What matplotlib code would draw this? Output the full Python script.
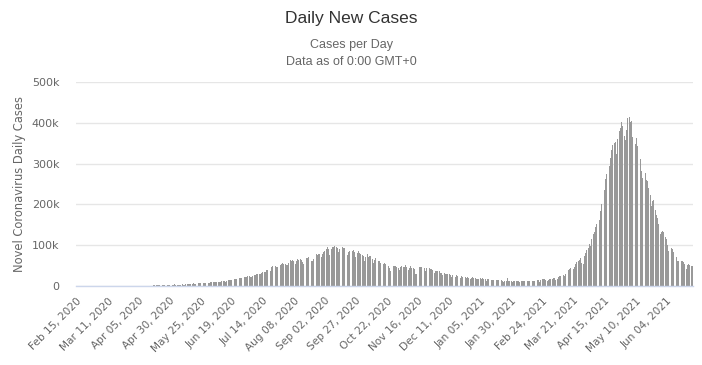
import datetime as dt
import matplotlib
matplotlib.use("Agg")
import matplotlib.pyplot as plt

# ---------------- data (daily new cases) ----------------
start_date = dt.date(2020, 2, 15)

feb_2020 = [0] * 15
mar_2020 = [0, 2, 1, 22, 2, 1, 3, 5, 4, 13, 6, 11, 10, 20, 11, 15, 17, 20, 23, 79,
            63, 77, 103, 37, 121, 70, 160, 100, 112, 227, 146]
apr_2020 = [437, 235, 478, 525, 505, 704, 508, 485, 591, 896, 768, 918, 796, 1211, 1076,
            1007, 1296, 1229, 1334, 1553, 1336, 1383, 1409, 1684, 1429, 1990, 1396, 1543, 1897, 1718]
may_2020 = [1993, 2293, 2487, 3932, 2963, 3587, 3364, 3344, 3113, 4353, 3607, 3524, 3763, 3942,
            3787, 4864, 5050, 4630, 6147, 5611, 5609, 6088, 6654, 6767, 6977, 6535, 6387, 7466,
            7964, 8380, 8392]
jun_2020 = [8171, 8909, 9304, 9851, 9887, 9971, 10077, 9987, 9985, 10956, 11458, 11929, 11502,
            10667, 12881, 13586, 14516, 15413, 14821, 14933, 15968, 16922, 17296, 18552, 19906,
            19459, 18522, 19148, 20903, 22771]
jul_2020 = [22771, 24850, 24248, 22252, 22752, 24879, 26506, 27114, 28637, 28701, 28498, 29429,
            32695, 35468, 34956, 34884, 38902, 40425, 37148, 37724, 45720, 49310, 48916, 49931,
            46979, 47703, 48513, 52123, 55078, 57118, 54736]
aug_2020 = [52972, 52050, 52509, 56282, 62538, 61537, 64399, 62064, 53601, 60963, 66999, 64553,
            65002, 63490, 57981, 55079, 64531, 69652, 68898, 69878, 69239, 61408, 60975, 67151,
            75760, 77266, 76472, 78761, 78512, 69921, 78357]
sep_2020 = [83883, 86432, 90632, 94372, 90802, 75809, 89706, 95735, 96551, 97570, 94372, 92071,
            83809, 90123, 97894, 96424, 93337, 92605, 86961, 75083, 83347, 86508, 86052, 85362,
            88600, 82170, 70589, 80472, 86821, 81484]
oct_2020 = [79476, 75829, 74442, 61267, 72049, 78524, 70496, 73272, 74383, 66732, 55342, 63509,
            67708, 63371, 62212, 61871, 55722, 46790, 54044, 55839, 54366, 53370, 50129, 45148,
            36470, 43893, 49881, 48648, 48268, 46963, 45230]
nov_2020 = [38310, 46254, 50210, 47638, 45674, 50357, 45903, 38073, 44281, 47905, 44879, 44684,
            41100, 30548, 29164, 38617, 45576, 45882, 46232, 45209, 44059, 37975, 44376, 44489,
            43082, 41322, 41810, 38772, 31118, 36604]
dec_2020 = [35551, 36652, 36594, 32981, 32080, 26567, 31521, 29398, 30006, 29398, 30254, 27071,
            22065, 26382, 24010, 22890, 26624, 25152, 24337, 19556, 23950, 23068, 24712, 23067,
            18732, 22272, 20021, 16432, 20549, 21822, 20035]
jan_2021 = [19079, 18177, 16505, 18088, 20346, 18139, 18645, 18222, 16311, 12584, 15968, 16946,
            15590, 15144, 15158, 13788, 10064, 13823, 15223, 14545, 14256, 14849, 13203, 9102,
            12689, 11666, 18855, 13083, 11649, 13052, 8635]
feb_2021 = [11039, 12899, 11713, 12059, 11831, 9110, 12923, 11067, 12143, 11067, 12194, 12143,
            12194, 11649, 9121, 11610, 13193, 12881, 13193, 13993, 14199, 10584, 13742, 16738,
            16577, 16752, 15510, 12286]
mar_2021 = [14989, 17407, 16838, 18327, 18711, 18599, 15388, 17921, 22854, 23285, 24882, 25320,
            26291, 24492, 28903, 35871, 39726, 40953, 43846, 46951, 40715, 47262, 53476, 59118,
            62258, 62714, 68020, 56211, 53480, 72330, 81466]
apr_2021 = [89129, 93249, 103558, 96982, 115736, 126789, 131968, 145384, 152879, 168912, 161736,
            184372, 200739, 217353, 234692, 261500, 273810, 259170, 295041, 314835, 332730,
            346786, 349691, 352991, 323144, 360960, 379257, 386452, 401993, 392488]
may_2021 = [368147, 357229, 382315, 412262, 414188, 401078, 403738, 366161, 329942, 348421,
            362727, 343144, 326098, 311170, 281386, 263533, 267334, 276070, 259551, 257299,
            240842, 222315, 196427, 208921, 211298, 186364, 173790, 165553, 152734, 127510, 132788]
jun_2021 = [134154, 132364, 120529, 114460, 100636, 86498, 92596, 94052, 91702, 84332, 80834,
            70421, 60471, 62224, 67208, 62480, 60753, 58419, 53256, 42640, 50848, 54069, 51667,
            48698, 50040]

daily_cases = (feb_2020 + mar_2020 + apr_2020 + may_2020 + jun_2020 + jul_2020 + aug_2020 +
               sep_2020 + oct_2020 + nov_2020 + dec_2020 + jan_2021 + feb_2021 + mar_2021 +
               apr_2021 + may_2021 + jun_2021)
dates = [start_date + dt.timedelta(days=i) for i in range(len(daily_cases))]
y_ticks = [0, 100000, 200000, 300000, 400000, 500000]
y_tick_labels = ["0", "100k", "200k", "300k", "400k", "500k"]

# ---------------- figure ----------------
W, H = 702, 365
fig = plt.figure(figsize=(W / 100, H / 100), dpi=100)
plt.rcParams['font.family'] = ['DejaVu Sans']
title_family = ['Liberation Sans', 'DejaVu Sans']

left, right, top, bottom = 76, 693, 82, 286
ax = fig.add_axes([left / W, 1 - bottom / H, (right - left) / W, (bottom - top) / H])

n = len(daily_cases)
x = list(range(n))
ax.bar(x, daily_cases, width=0.72, color="#999999", linewidth=0, zorder=2)

ax.set_xlim(-0.5, n - 0.5)
ax.set_ylim(0, 500000)

for s in ["top", "right", "left"]:
    ax.spines[s].set_visible(False)
ax.spines["bottom"].set_color("#ccd6eb")
ax.spines["bottom"].set_linewidth(1)
ax.spines["bottom"].set_zorder(3)

ax.set_yticks(y_ticks)
ax.set_yticklabels(y_tick_labels)
ax.yaxis.grid(True, color="#e6e6e6", linewidth=1, zorder=0)
ax.set_axisbelow(True)
ax.tick_params(axis="y", length=0, pad=12, labelsize=8, labelcolor="#666666")

tick_idx = list(range(0, n, 25))
ax.set_xticks(tick_idx)
ax.set_xticklabels([dates[i].strftime("%b %d, %Y") for i in tick_idx],
                   rotation=45, ha="right", va="top", rotation_mode="anchor")
ax.tick_params(axis="x", length=0, pad=7, labelsize=7.6, labelcolor="#666666")

ax.set_ylabel("Novel Coronavirus Daily Cases", fontsize=8.3, color="#666666")
ax.yaxis.set_label_coords((26 - left) / (right - left), 0.5)

fig.text(0.5, 1 - 18 / H, "Daily New Cases", ha="center", va="center",
         fontsize=12.5, color="#333333", family=title_family)
fig.text(0.5, 1 - 45 / H, "Cases per Day", ha="center", va="center",
         fontsize=9, color="#666666", family=title_family)
fig.text(0.5, 1 - 62 / H, "Data as of 0:00 GMT+0", ha="center", va="center",
         fontsize=9, color="#666666", family=title_family)

fig.savefig("out.png", dpi=100, facecolor="white")
